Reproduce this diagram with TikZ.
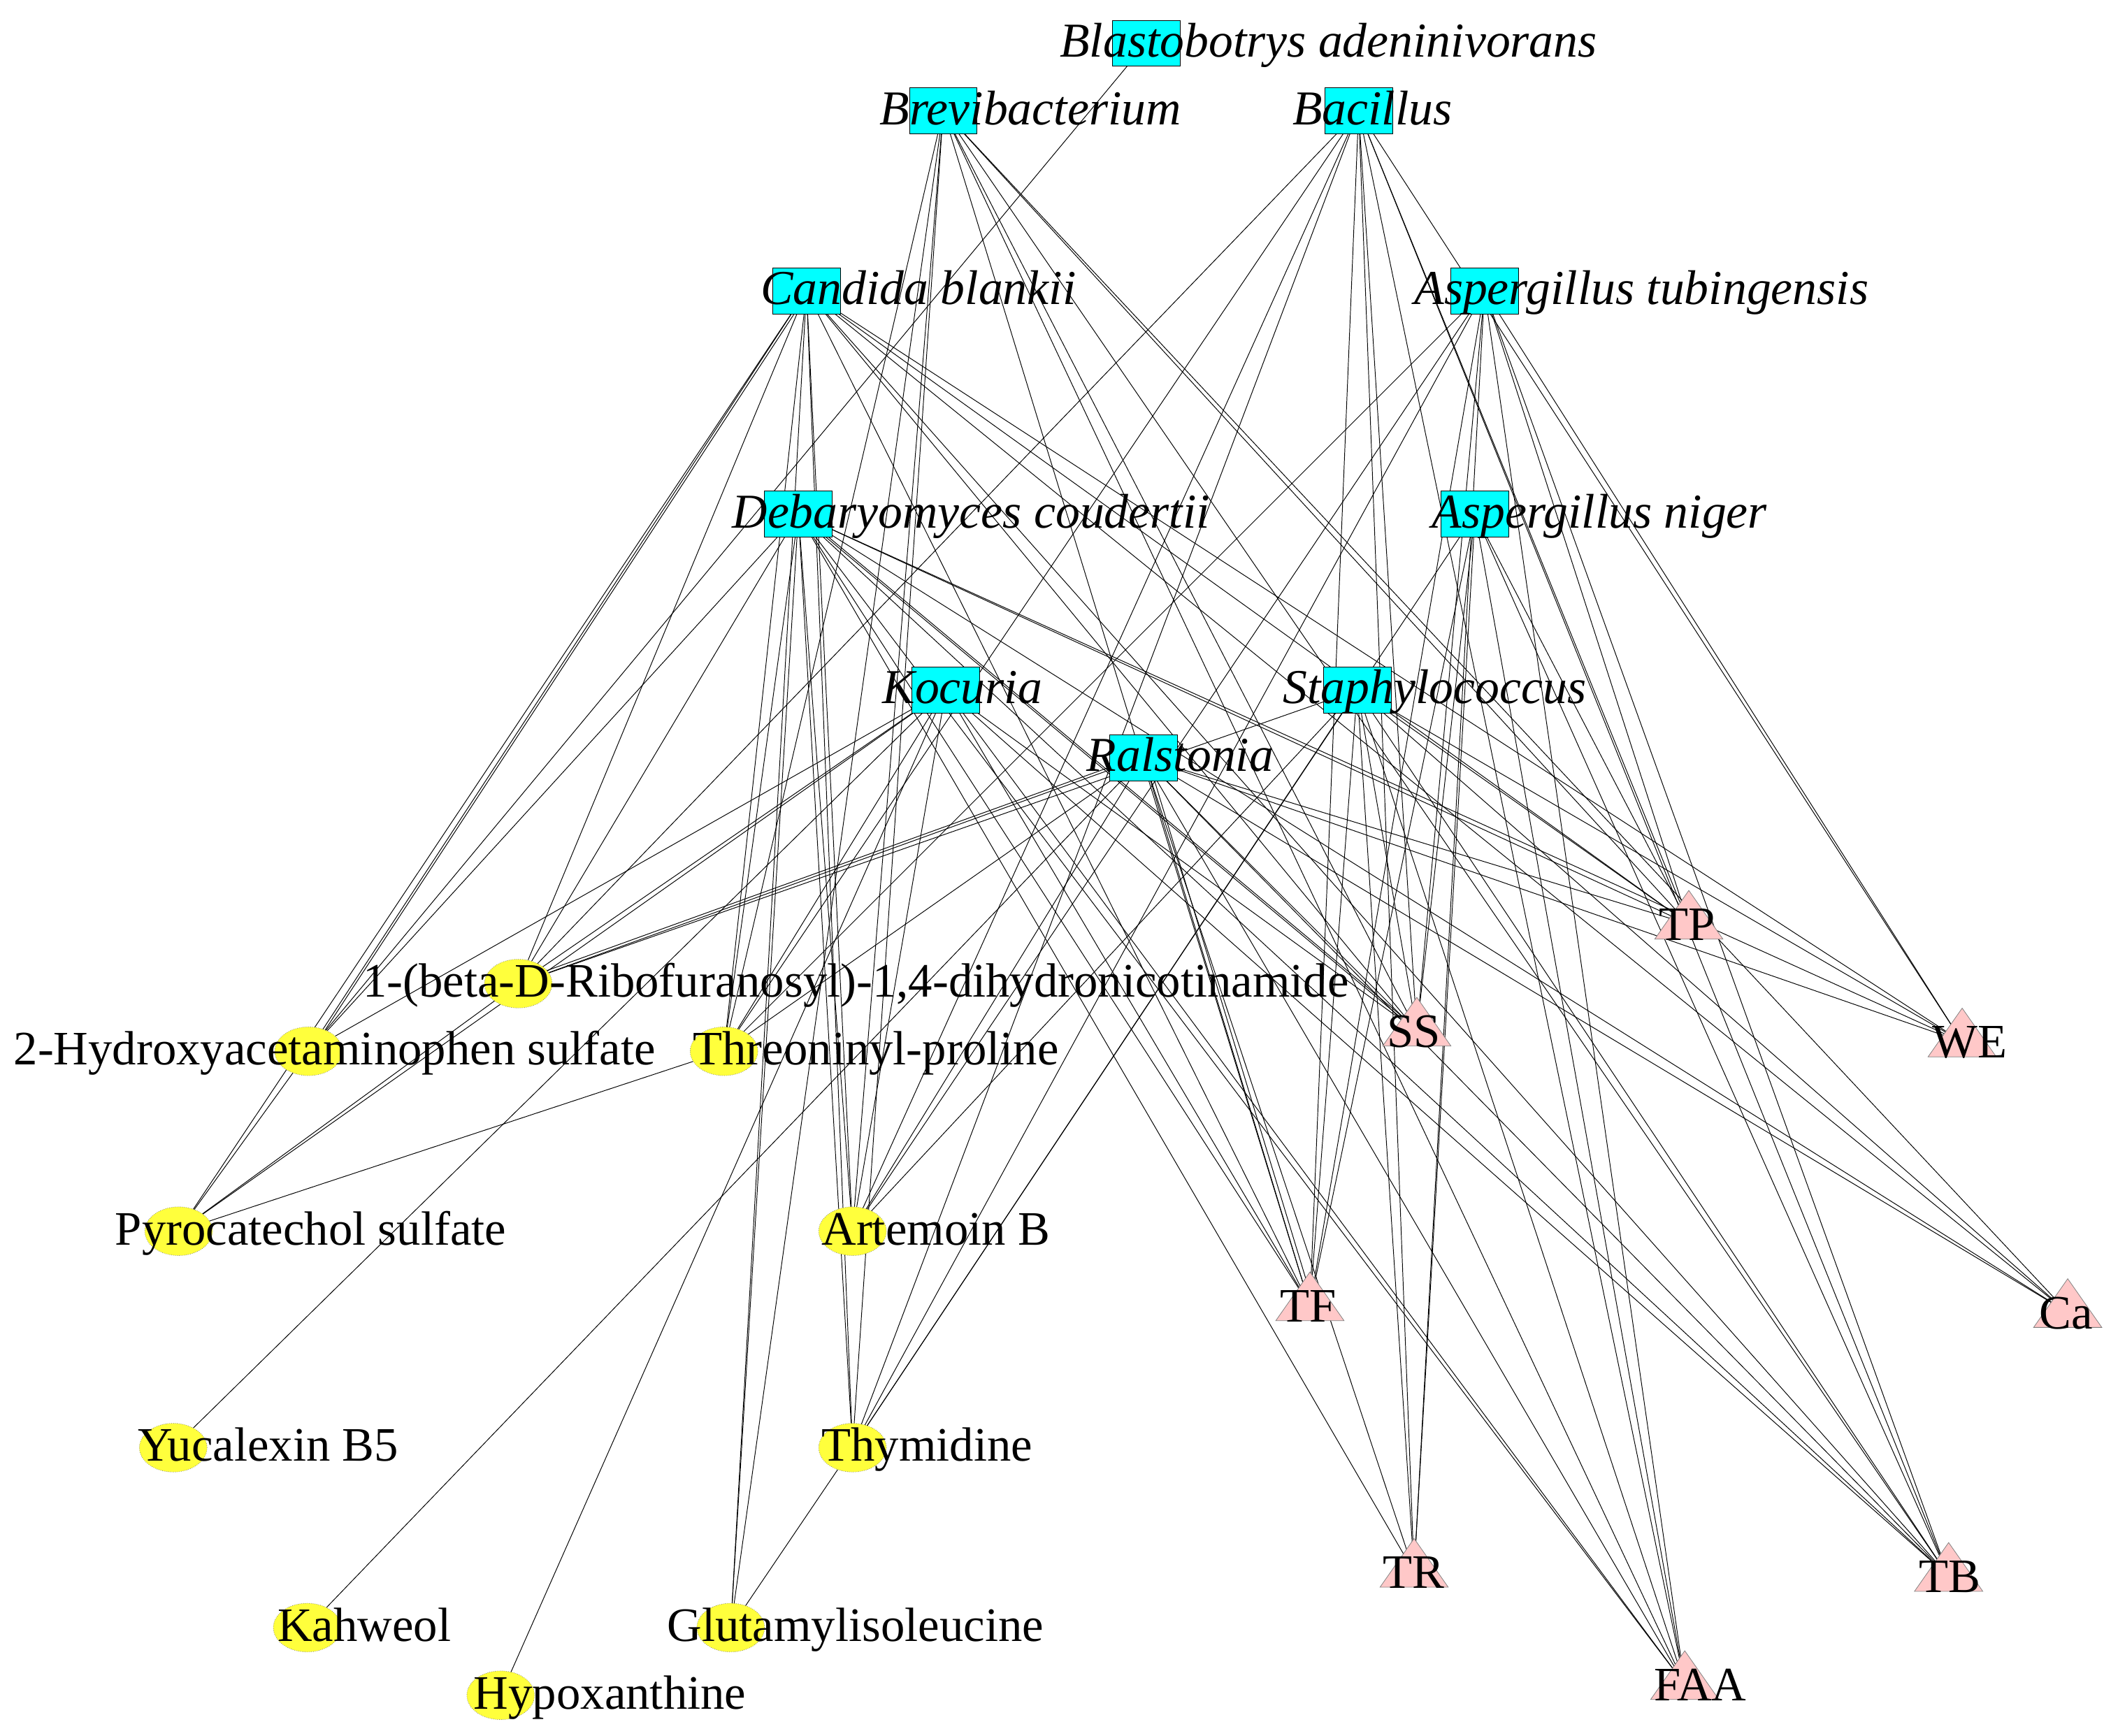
\documentclass[tikz,border=0pt]{standalone}
\usepackage{fontspec}
\setmainfont{Liberation Serif}
\usetikzlibrary{shapes.geometric}
\definecolor{cy}{RGB}{0,255,255}
\definecolor{yl}{RGB}{255,255,60}
\definecolor{pk}{RGB}{255,200,200}
\begin{document}
\begin{tikzpicture}[x=1pt,y=-1pt,
 mic/.style={draw=black,fill=cy,minimum width=50pt,minimum height=34pt,inner sep=0pt},
 met/.style={ellipse,draw=gray,densely dotted,fill=yl,minimum width=50pt,minimum height=36pt,inner sep=0pt},
 tri/.style={isosceles triangle,isosceles triangle apex angle=70,shape border rotate=90,draw=gray,fill=pk,minimum width=50pt,minimum height=36pt,inner sep=0pt,anchor=center},
 ml/.style={anchor=base west,font=\fontsize{36}{38}\selectfont\itshape,inner sep=0pt},
 tl/.style={anchor=base west,font=\fontsize{35.5}{38}\selectfont,inner sep=0pt},
 e/.style={line width=0.5pt,black}]
\useasboundingbox (0,0) rectangle (1560,1283);
% microbes
\coordinate (Bl) at (847,32);
\coordinate (Br) at (697,82);
\coordinate (Ba) at (1004,82);
\coordinate (Ca1) at (596,215);
\coordinate (At) at (1097,215);
\coordinate (De) at (590,380);
\coordinate (An) at (1090,380);
\coordinate (Ko) at (699,510);
\coordinate (St) at (1003,510);
\coordinate (Ra) at (845,560);
% metabolites
\coordinate (M1) at (383,727);
\coordinate (M2) at (228,777);
\coordinate (M3) at (535,777);
\coordinate (M4) at (132,910);
\coordinate (M5) at (630,910);
\coordinate (M6) at (128,1070);
\coordinate (M7) at (630,1070);
\coordinate (M8) at (227,1203);
\coordinate (M9) at (540,1203);
\coordinate (M10) at (370,1253);
% triangles
\coordinate (TP) at (1248,683);
\coordinate (SS) at (1047,762);
\coordinate (WE) at (1450,770);
\coordinate (TF) at (968,965);
\coordinate (Ca) at (1528,970);
\coordinate (TR) at (1045,1162);
\coordinate (TB) at (1440,1165);
\coordinate (FAA) at (1245,1245);
% edges
\foreach \a/\b in {Bl/M2,
 Br/M5,Br/M7,Br/M9,Br/M3,Br/SS,Br/TP,Br/Ca,Br/TB,Br/FAA,Br/TF,
 Ba/M1,Ba/M3,Ba/M5,Ba/M7,Ba/TF,Ba/SS,Ba/TR,Ba/TP,Ba/WE,Ba/FAA,Ba/TB,
 Ca1/M2,Ca1/M4,Ca1/M1,Ca1/M3,Ca1/M5,Ca1/M7,Ca1/M9,Ca1/SS,Ca1/TP,Ca1/WE,Ca1/Ca,Ca1/TF,Ca1/TB,
 At/M5,At/M7,At/M3,At/SS,At/TR,At/TF,At/TP,At/WE,At/FAA,At/TB,
 De/M1,De/M2,De/M3,De/M5,De/M7,De/M9,De/SS,De/TP,De/TF,De/TR,De/TB,De/FAA,De/Ca,De/WE,
 An/TR,An/SS,An/TF,An/M7,An/FAA,An/TP,An/TB,
 Ko/M1,Ko/M2,Ko/M6,Ko/M3,Ko/M5,Ko/M10,Ko/TF,Ko/SS,Ko/FAA,Ko/TB,Ko/M4,
 St/M1,St/M5,St/M7,St/TF,St/SS,St/TR,St/TP,St/WE,St/FAA,St/Ca,St/TB,
 Ra/M1,Ra/M3,Ra/M8,Ra/M5,Ra/TF,Ra/SS,Ra/TP,Ra/WE,Ra/Ca,Ra/TB,Ra/FAA,Ra/TR,
 M7/M9,M2/M4,M4/M3,M4/M1}
 \draw[e] (\a) -- (\b);
\draw[e] ([xshift=2pt]De) -- ([xshift=2pt]SS);
\draw[e] ([yshift=2pt]Ra) -- ([yshift=2pt]M1);
\draw[e] ([xshift=3pt]Ra) -- ([xshift=3pt]TF);
\draw[e] ([xshift=2pt]Ca1) -- ([xshift=2pt]M2);
% nodes
\foreach \n in {Bl,Br,Ba,Ca1,At,De,An,Ko,St,Ra} \node[mic] (n\n) at (\n) {};
\foreach \n in {M1,M2,M3,M4,M5,M6,M7,M8,M9,M10} \node[met] (n\n) at (\n) {};
\foreach \n in {TP,SS,WE,TF,Ca,TR,TB,FAA} \node[tri] (n\n) at ([yshift=2pt]\n) {};
% labels
\node[ml] (lBl) at (783,42) {Blastobotrys adeninivorans};
\node[ml] (lBr) at (650,92) {Brevibacterium};
\node[ml] (lBa) at (955,92) {Bacillus};
\node[ml] (lCa1) at (562,225) {Candida blankii};
\node[ml] (lAt) at (1045,225) {Aspergillus tubingensis};
\node[ml] (lDe) at (541,390) {Debaryomyces coudertii};
\node[ml] (lAn) at (1058,390) {Aspergillus niger};
\node[ml] (lKo) at (652,520) {Kocuria};
\node[ml] (lSt) at (948,520) {Staphylococcus};
\node[ml] (lRa) at (803,570) {Ralstonia};
\node[tl] (lM1) at (268,737) {1-(beta-D-Ribofuranosyl)-1,4-dihydronicotinamide};
\node[tl] (lM2) at (10,787) {2-Hydroxyacetaminophen sulfate};
\node[tl] (lM3) at (512,787) {Threoninyl-proline};
\node[tl] (lM4) at (85,920) {Pyrocatechol sulfate};
\node[tl] (lM5) at (607,920) {Artemoin B};
\node[tl] (lM6) at (102,1080) {Yucalexin B5};
\node[tl] (lM7) at (607,1080) {Thymidine};
\node[tl] (lM8) at (205,1213) {Kahweol};
\node[tl] (lM9) at (493,1213) {Glutamylisoleucine};
\node[tl] (lM10) at (350,1263) {Hypoxanthine};
\node[tl] (lTP) at (1226,695) {TP};
\node[tl] (lSS) at (1025,774) {SS};
\node[tl] (lWE) at (1428,782) {WE};
\node[tl] (lTF) at (946,977) {TF};
\node[tl] (lCa) at (1507,982) {Ca};
\node[tl] (lTR) at (1022,1174) {TR};
\node[tl] (lTB) at (1418,1177) {TB};
\node[tl] (lFAA) at (1222,1257) {FAA};
\end{tikzpicture}
\end{document}
